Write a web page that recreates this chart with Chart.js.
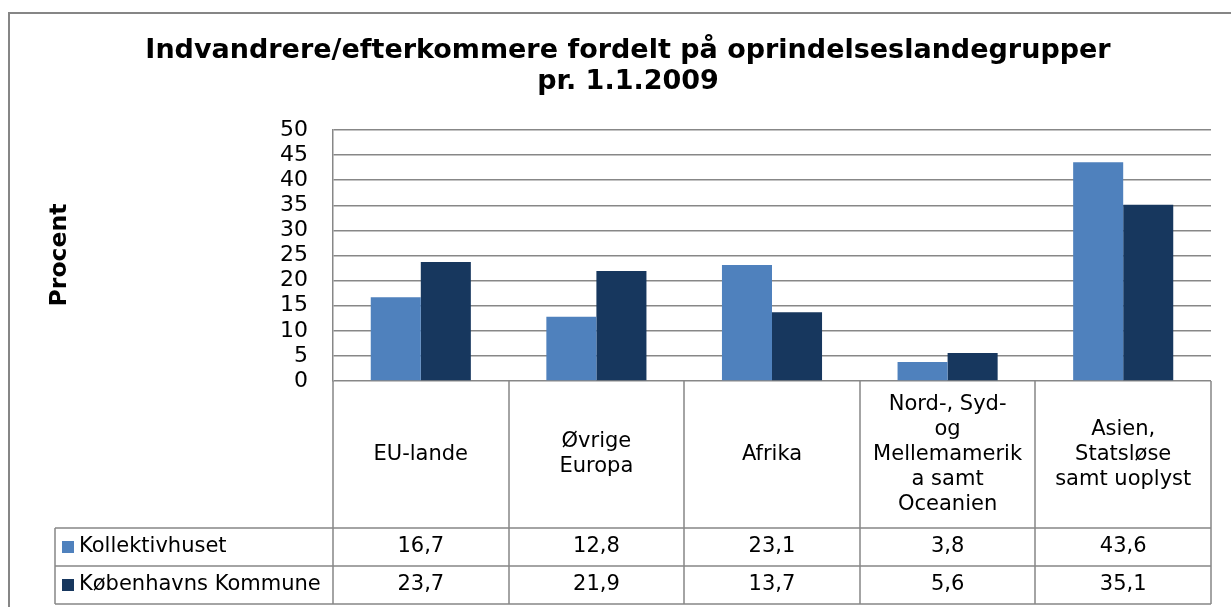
<!DOCTYPE html>
<html>
<head>
<meta charset="utf-8">
<script src="https://cdn.jsdelivr.net/npm/chart.js@4"></script>
<style>
  html, body { margin: 0; padding: 0; background: #fff; overflow: hidden; }
  #wrap { position: absolute; left: 0; top: 0; width: 1256px; height: 607px; }
  #frame { position: absolute; left: 8px; top: 12px; width: 1400px; height: 800px; border: 2px solid #868686; box-sizing: border-box; }
</style>
</head>
<body>
<div id="frame"></div>
<div id="wrap"><canvas id="chart" width="1256" height="607"></canvas></div>
<script>
var categories = ['EU-lande', ['Øvrige', 'Europa'], 'Afrika', ['Nord-, Syd-', 'og', 'Mellemamerik', 'a samt', 'Oceanien'], ['Asien,', 'Statsløse', 'samt uoplyst']];
var seriesNames = ['Kollektivhuset', 'Københavns Kommune'];
var kollektivhuset = [16.7, 12.8, 23.1, 3.8, 43.6];
var kommune = [23.7, 21.9, 13.7, 5.6, 35.1];
var yTicks = [0, 5, 10, 15, 20, 25, 30, 35, 40, 45, 50];

var colors = ['#4f81bd', '#17375e'];
var fontFamily = '"DejaVu Sans", Verdana, sans-serif';
var gridColor = '#878787';

// data table under the plot, drawn from the x scale positions
var dataTable = {
    id: 'dataTable',
    afterDraw: function (chart) {
        var ctx = chart.ctx;
        var x = chart.scales.x;
        var area = chart.chartArea;
        var step = x.getPixelForValue(1) - x.getPixelForValue(0);
        var headTop = area.bottom;
        var rowTop = 528;
        var rowH = 38;
        var legendLeft = 55;
        var bottom = rowTop + rowH * seriesNames.length;

        ctx.save();
        ctx.strokeStyle = gridColor;
        ctx.lineWidth = 1.5;
        ctx.beginPath();
        for (var i = 0; i <= categories.length; i++) {
            var bx = Math.round(x.getPixelForValue(i) - step / 2);
            ctx.moveTo(bx, headTop);
            ctx.lineTo(bx, bottom);
        }
        for (var r = 0; r <= seriesNames.length; r++) {
            ctx.moveTo(legendLeft, rowTop + r * rowH);
            ctx.lineTo(area.right, rowTop + r * rowH);
        }
        ctx.moveTo(legendLeft, rowTop);
        ctx.lineTo(legendLeft, bottom);
        ctx.stroke();

        ctx.fillStyle = '#000';
        ctx.font = '21px ' + fontFamily;
        ctx.textAlign = 'center';
        ctx.textBaseline = 'middle';
        var lineH = 25;
        categories.forEach(function (c, i) {
            var lines = Array.isArray(c) ? c : [c];
            var cx = x.getPixelForValue(i);
            var cy = (headTop + rowTop) / 2 - (lines.length - 1) * lineH / 2;
            lines.forEach(function (t, k) {
                ctx.fillText(t, cx, cy + k * lineH);
            });
        });

        chart.data.datasets.forEach(function (ds, r) {
            var cy = rowTop + r * rowH + rowH / 2;
            ctx.fillStyle = ds.backgroundColor;
            ctx.fillRect(62, cy - 6, 12, 12);
            ctx.fillStyle = '#000';
            ctx.textAlign = 'left';
            ctx.fillText(ds.label, 79, cy);
            ctx.textAlign = 'center';
            ds.data.forEach(function (v, i) {
                ctx.fillText(v.toFixed(1).replace('.', ','), x.getPixelForValue(i), cy);
            });
        });

        // y axis title
        ctx.translate(60, 255);
        ctx.rotate(-Math.PI / 2);
        ctx.font = 'bold 23.5px ' + fontFamily;
        ctx.fillText('Procent', 0, 0);
        ctx.restore();
    }
};

new Chart(document.getElementById('chart'), {
    type: 'bar',
    data: {
        labels: categories,
        datasets: [{
            label: seriesNames[0],
            data: kollektivhuset,
            backgroundColor: colors[0]
        }, {
            label: seriesNames[1],
            data: kommune,
            backgroundColor: colors[1]
        }]
    },
    options: {
        responsive: false,
        animation: false,
        layout: { padding: { left: 45, right: 45, top: 0, bottom: 226 } },
        categoryPercentage: 0.57,
        barPercentage: 1,
        plugins: {
            legend: { display: false },
            tooltip: { enabled: false },
            title: {
                display: true,
                text: ['Indvandrere/efterkommere fordelt på oprindelseslandegrupper', 'pr. 1.1.2009'],
                color: '#000',
                font: { family: fontFamily, size: 27, weight: 'bold', lineHeight: 1.15 },
                padding: { top: 35.5, bottom: 32.4 }
            }
        },
        scales: {
            x: { display: false },
            y: {
                min: 0,
                max: 50,
                afterFit: function (s) { s.width = 288; },
                afterBuildTicks: function (s) { s.ticks = yTicks.map(function (v) { return { value: v }; }); },
                ticks: {
                    color: '#000',
                    padding: 25,
                    autoSkip: false,
                    font: { family: fontFamily, size: 22 }
                },
                grid: { color: gridColor, lineWidth: 1.5, drawTicks: false },
                border: { color: gridColor, width: 1.5 }
            }
        }
    },
    plugins: [dataTable]
});
</script>
</body>
</html>
